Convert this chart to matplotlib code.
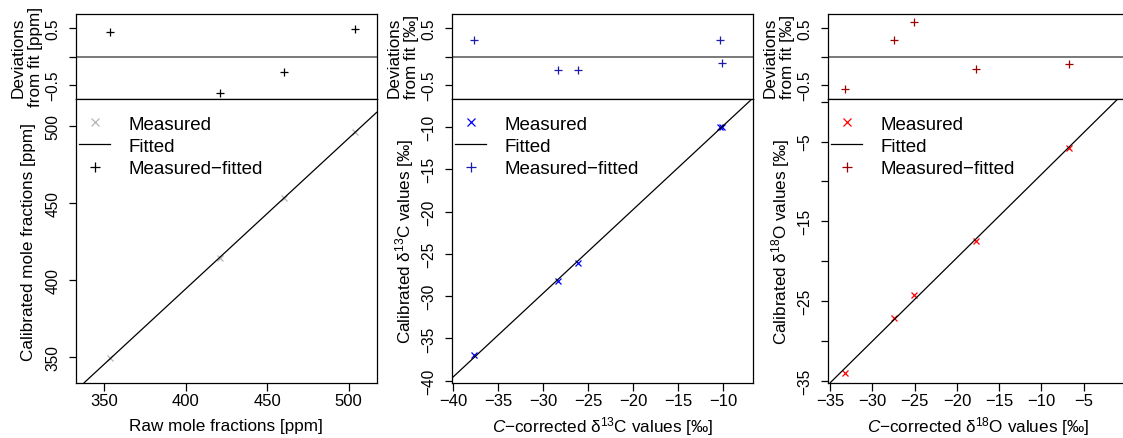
import matplotlib
matplotlib.use("Agg")
import matplotlib.pyplot as plt
from matplotlib.lines import Line2D

plt.rcParams["font.family"] = ["Liberation Sans", "DejaVu Sans"]
plt.rcParams["mathtext.fontset"] = "custom"
plt.rcParams["mathtext.rm"] = "Liberation Sans"
plt.rcParams["mathtext.it"] = "Liberation Sans:italic"

W, H = 1123, 439
MINUS = "\u2212"

# CO2 mole fractions [ppm]
co2_raw = [353.5, 420.9, 460.3, 503.6]
co2_cal = [349.2, 414.0, 452.8, 495.9]
co2_dev = [0.43, -0.635, -0.265, 0.48]
co2_fit = (0.977, 3.36)  # slope, intercept

# delta 13C [permil]
d13_raw = [-37.70, -28.33, -26.18, -10.37, -10.07]
d13_cal = [-37.00, -28.25, -26.10, -9.95, -10.05]
d13_dev = [0.29, -0.235, -0.235, 0.29, -0.11]
d13_fit = (0.989, 0.02)

# delta 18O [permil]
d18_raw = [-33.26, -27.49, -25.05, -17.78, -6.70]
d18_cal = [-34.00, -27.10, -24.25, -17.45, -5.77]
d18_dev = [-0.57, 0.30, 0.615, -0.21, -0.125]
d18_fit = (1.046, 1.36)

dev_ticks = [-0.5, 0, 0.5]
dev_labels = [MINUS + "0.5", "", "0.5"]

fig = plt.figure(figsize=(W / 100, H / 100), dpi=100)

XTICK_FS = 12
YTICK_FS = 11.2
LAB_FS = 12.3
LEG_FS = 13.5
LW = 0.9


def fmt(v):
    return f"{v:g}".replace("-", MINUS)


def style(ax):
    for sp in ax.spines.values():
        sp.set_linewidth(LW)
    ax.tick_params(direction="out", length=5.4, width=LW)
    ax.tick_params(axis="y", pad=5.5, labelsize=YTICK_FS)
    ax.tick_params(axis="x", pad=2.0, labelsize=XTICK_FS)


def panel(x0, x, y, dev, fit, xlim, ylim, xticks, xlab_show, yticks, ylab_show,
          c_meas, c_dev, xlabel, ylabel, devlabel):
    top = fig.add_axes([x0 / W, 1 - 100 / H, 301 / W, 85.3 / H])
    low = fig.add_axes([x0 / W, 1 - 383.7 / H, 301 / W, 283.7 / H])

    # deviations from the fit
    top.axhline(0, color="#555555", lw=1.1)
    top.plot(x, dev, ls="none", marker="+", ms=6, mew=LW, color=c_dev)
    top.set_xlim(xlim)
    top.set_ylim(-0.747, 0.758)
    top.set_xticks([])
    top.set_yticks(dev_ticks, labels=dev_labels)
    style(top)
    plt.setp(top.get_yticklabels(), rotation=90, va="center")
    top.set_ylabel(devlabel, fontsize=LAB_FS, linespacing=1.2)
    top.yaxis.set_label_coords(-49 / 301, 0.5)
    top.yaxis.label.set_va("center")

    # calibrated vs raw values with the fitted line
    slope, icpt = fit
    low.plot(x, y, ls="none", marker="x", ms=5, mew=LW, color=c_meas)
    low.axline((0, icpt), slope=slope, color="black", lw=LW)
    low.set_xlim(xlim)
    low.set_ylim(ylim)
    low.set_xticks(xticks, labels=[fmt(v) if v in xlab_show else "" for v in xticks])
    low.set_yticks(yticks, labels=[fmt(v) if v in ylab_show else "" for v in yticks])
    style(low)
    plt.setp(low.get_yticklabels(), rotation=90, va="center")
    low.set_xlabel(xlabel, fontsize=LAB_FS)
    low.xaxis.set_label_coords(0.5, -43 / 283.7)
    low.xaxis.label.set_va("center")
    low.set_ylabel(ylabel, fontsize=LAB_FS)
    low.yaxis.set_label_coords(-47 / 301, 0.5)
    low.yaxis.label.set_va("center")

    handles = [
        Line2D([], [], ls="none", marker="x", ms=5.8, mew=LW, color=c_meas),
        Line2D([], [], color="black", lw=LW),
        Line2D([], [], ls="none", marker="+", ms=6.5, mew=LW, color=c_dev),
    ]
    low.legend(handles, ["Measured", "Fitted", "Measured" + MINUS + "fitted"],
               loc="upper left", bbox_to_anchor=(0.012, 0.941), frameon=False,
               fontsize=LEG_FS, handlelength=1.65, handletextpad=1.0,
               labelspacing=0.27, borderpad=0, borderaxespad=0)


panel(75.7, co2_raw, co2_cal, co2_dev, co2_fit,
      (332.5, 517.2), (333.3, 517.3),
      [350, 400, 450, 500], [350, 400, 450, 500],
      [350, 400, 450, 500], [350, 400, 450, 500],
      "#b5b5b5", "black",
      "Raw mole fractions [ppm]",
      "Calibrated mole fractions [ppm]",
      "Deviations\nfrom fit [ppm]")

panel(451.7, d13_raw, d13_cal, d13_dev, d13_fit,
      (-40.18, -6.7), (-40.24, -6.69),
      [-40, -35, -30, -25, -20, -15, -10], [-40, -35, -30, -25, -20, -15, -10],
      [-40, -35, -30, -25, -20, -15, -10], [-40, -35, -30, -25, -20, -15, -10],
      "#0000ff", "#1c1ca8",
      r"$\mathit{C}$" + MINUS + "corrected δ$^{13}$C values [‰]",
      "Calibrated δ$^{13}$C values [‰]",
      "Deviations\nfrom fit [‰]")

panel(827.7, d18_raw, d18_cal, d18_dev, d18_fit,
      (-35.3, 0.33), (-35.25, 0.35),
      [-35, -30, -25, -20, -15, -10, -5, 0], [-35, -30, -25, -20, -15, -10, -5],
      [-35, -30, -25, -20, -15, -10, -5, 0], [-35, -25, -15, -5],
      "#ff0000", "#9b0000",
      r"$\mathit{C}$" + MINUS + "corrected δ$^{18}$O values [‰]",
      "Calibrated δ$^{18}$O values [‰]",
      "Deviations\nfrom fit [‰]")

fig.savefig("out.png", dpi=100)
